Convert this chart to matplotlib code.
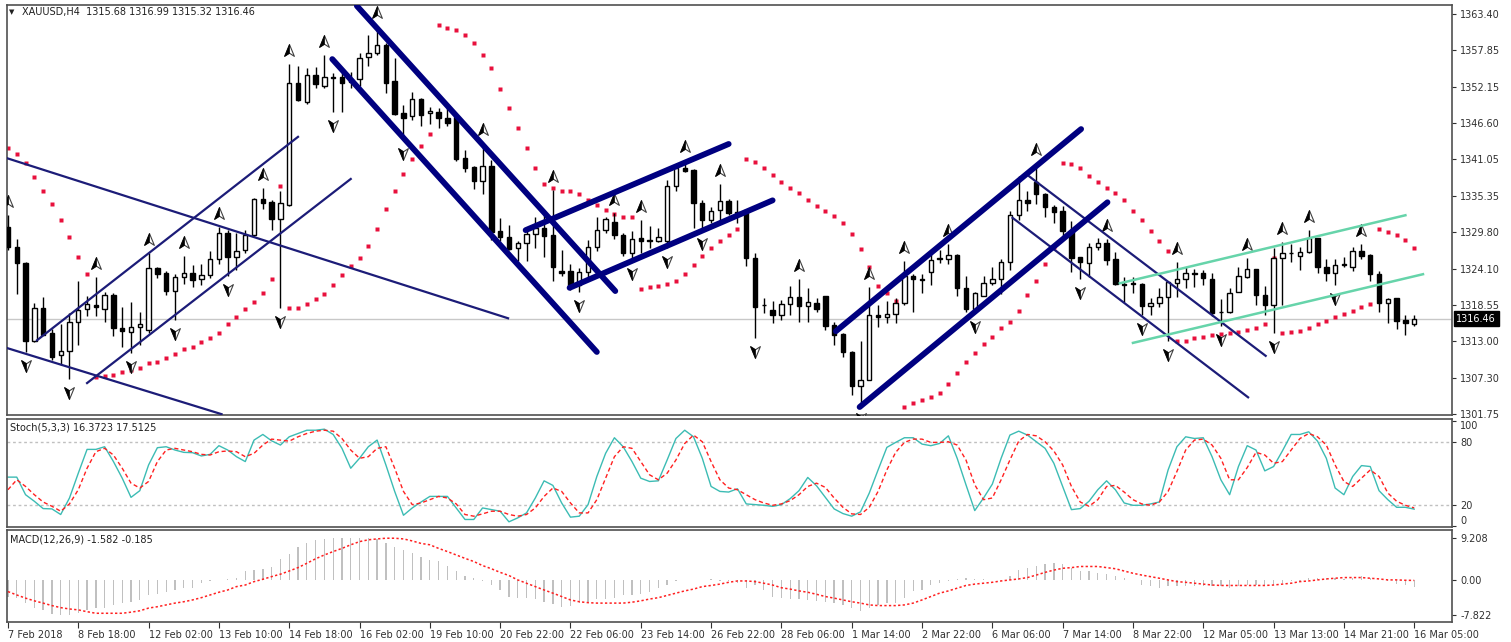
import numpy as np
import matplotlib.pyplot as plt
from matplotlib.path import Path
from matplotlib import transforms

# ---- data (XAUUSD H4) ----
OPEN = [1330.6, 1327.5, 1325.0, 1313.0, 1318.1, 1314.2, 1310.8, 1311.5, 1315.9, 1318.0,
        1318.5, 1318.0, 1320.1, 1315.0, 1314.4, 1315.1, 1314.7, 1324.2, 1323.5, 1320.7,
        1322.8, 1323.5, 1322.5, 1323.2, 1325.6, 1329.6, 1325.9, 1327.0, 1329.3, 1334.9,
        1334.4, 1331.8, 1334.0, 1352.8, 1349.9, 1354.0, 1352.3, 1353.7, 1353.7, 1353.4,
        1353.4, 1356.8, 1357.4, 1358.7, 1353.1, 1348.2, 1347.7, 1350.3, 1348.2, 1348.3,
        1347.4, 1347.5, 1341.2, 1339.9, 1337.7, 1340.0, 1329.9, 1329.0, 1327.3, 1328.1,
        1329.5, 1330.4, 1329.3, 1323.8, 1323.8, 1321.6, 1323.6, 1327.5, 1330.1, 1331.3,
        1329.3, 1326.6, 1328.9, 1328.6, 1328.4, 1328.4, 1336.9, 1339.7, 1339.4, 1334.3,
        1331.6, 1333.2, 1334.6, 1332.9, 1333.2, 1325.8, 1318.6, 1317.8, 1317.0, 1318.7,
        1319.8, 1318.4, 1318.8, 1319.9, 1315.5, 1314.0, 1311.3, 1306.0, 1307.0, 1317.0,
        1316.7, 1317.2, 1318.9, 1323.0, 1322.5, 1323.6, 1325.7, 1325.6, 1326.2, 1321.1,
        1317.9, 1319.9, 1321.9, 1322.5, 1325.2, 1332.4, 1334.7, 1337.5, 1335.7, 1333.6,
        1333.0, 1330.0, 1326.0, 1325.0, 1327.5, 1328.1, 1325.6, 1321.8, 1321.9, 1321.8,
        1318.4, 1318.9, 1319.8, 1322.0, 1322.5, 1323.5, 1323.5, 1322.5, 1317.5, 1317.5,
        1320.6, 1322.8, 1324.1, 1320.1, 1318.5, 1325.8, 1326.6, 1326.1, 1326.7, 1328.9,
        1324.4, 1323.5, 1324.7, 1324.4, 1326.9, 1326.3, 1323.3, 1318.9, 1319.6, 1316.2,
        1315.68]
HIGH = [1332.4, 1328.7, 1325.2, 1318.9, 1319.8, 1314.9, 1315.6, 1317.3, 1322.2, 1320.0,
        1322.8, 1320.6, 1320.4, 1318.2, 1319.0, 1317.5, 1326.5, 1324.4, 1323.8, 1323.3,
        1326.1, 1324.7, 1324.9, 1326.9, 1330.6, 1330.1, 1329.6, 1330.1, 1335.1, 1336.6,
        1334.7, 1336.1, 1355.7, 1355.4, 1355.1, 1355.3, 1357.1, 1354.3, 1354.4, 1354.5,
        1357.5, 1360.2, 1361.6, 1359.0, 1356.6, 1349.4, 1351.4, 1350.5, 1349.1, 1348.9,
        1349.0, 1348.2, 1342.4, 1340.0, 1343.5, 1340.9, 1331.9, 1330.9, 1328.5, 1330.1,
        1332.2, 1332.9, 1336.3, 1327.1, 1324.9, 1324.3, 1328.6, 1332.1, 1332.2, 1332.7,
        1329.6, 1329.9, 1331.7, 1330.7, 1330.4, 1337.9, 1340.3, 1341.0, 1339.5, 1334.7,
        1333.6, 1337.2, 1334.9, 1334.7, 1333.3, 1326.6, 1319.6, 1319.1, 1319.3, 1321.5,
        1322.5, 1321.1, 1319.6, 1320.0, 1316.0, 1314.2, 1311.5, 1313.0, 1321.3, 1318.5,
        1319.1, 1319.6, 1325.4, 1323.3, 1323.3, 1326.5, 1327.1, 1328.0, 1326.4, 1323.0,
        1320.6, 1323.1, 1324.4, 1325.6, 1333.1, 1338.4, 1336.2, 1340.4, 1335.8, 1334.0,
        1333.9, 1331.5, 1326.0, 1328.1, 1328.9, 1328.7, 1326.8, 1322.9, 1322.9, 1322.0,
        1319.6, 1321.1, 1322.1, 1325.2, 1324.4, 1324.1, 1324.0, 1323.5, 1319.5, 1321.1,
        1324.4, 1325.8, 1324.1, 1321.5, 1327.3, 1328.2, 1328.0, 1327.5, 1330.2, 1328.9,
        1325.7, 1325.7, 1326.0, 1327.5, 1328.0, 1326.4, 1323.8, 1319.6, 1319.7, 1317.0,
        1316.99]
LOW = [1327.0, 1320.2, 1311.3, 1312.9, 1313.9, 1310.0, 1309.3, 1307.1, 1312.4, 1316.9,
       1316.9, 1316.0, 1313.7, 1312.1, 1311.1, 1312.4, 1314.2, 1322.7, 1320.1, 1316.2,
       1321.8, 1321.3, 1321.6, 1322.7, 1324.9, 1323.0, 1324.0, 1326.5, 1329.0, 1333.3,
       1330.1, 1318.1, 1333.8, 1350.0, 1349.6, 1352.1, 1352.1, 1348.3, 1348.4, 1352.1,
       1352.3, 1355.4, 1357.1, 1351.3, 1347.8, 1344.0, 1347.1, 1346.2, 1346.5, 1345.8,
       1346.2, 1340.7, 1339.0, 1336.5, 1335.7, 1328.6, 1328.4, 1327.0, 1325.3, 1325.4,
       1327.4, 1326.0, 1322.3, 1323.0, 1320.9, 1320.6, 1322.4, 1326.9, 1329.7, 1328.7,
       1326.1, 1325.5, 1326.5, 1327.3, 1328.2, 1327.3, 1336.2, 1339.1, 1330.5, 1330.1,
       1331.2, 1331.4, 1332.4, 1331.2, 1324.5, 1313.4, 1317.3, 1315.7, 1316.2, 1317.0,
       1316.0, 1316.0, 1317.5, 1314.7, 1312.4, 1310.5, 1304.7, 1303.1, 1306.9, 1315.2,
       1315.7, 1315.7, 1318.5, 1317.5, 1320.4, 1321.6, 1325.0, 1324.9, 1319.9, 1317.5,
       1317.3, 1319.9, 1321.6, 1320.3, 1324.0, 1331.6, 1333.1, 1334.1, 1332.1, 1331.2,
       1329.0, 1323.6, 1322.5, 1322.9, 1327.1, 1324.7, 1321.6, 1319.0, 1320.4, 1317.0,
       1317.0, 1318.3, 1313.0, 1319.8, 1321.1, 1321.3, 1321.7, 1316.9, 1315.3, 1317.3,
       1320.5, 1322.7, 1318.5, 1317.0, 1314.3, 1318.5, 1325.2, 1324.0, 1326.5, 1323.5,
       1322.3, 1321.6, 1324.4, 1323.8, 1325.7, 1322.3, 1317.4, 1315.7, 1314.9, 1313.9,
       1315.32]
CLOSE = [1327.5, 1325.0, 1313.0, 1318.1, 1313.9, 1310.5, 1311.5, 1315.9, 1317.8, 1318.7,
         1318.2, 1320.1, 1315.0, 1314.5, 1315.2, 1315.6, 1324.2, 1323.4, 1320.7, 1322.9,
         1323.5, 1322.4, 1323.2, 1325.6, 1329.6, 1325.9, 1326.9, 1329.3, 1334.9, 1334.3,
         1331.8, 1334.3, 1352.8, 1350.2, 1354.0, 1352.6, 1353.7, 1353.6, 1352.8, 1353.0,
         1356.6, 1357.4, 1358.7, 1352.8, 1348.0, 1347.4, 1350.3, 1347.9, 1348.5, 1347.4,
         1346.6, 1341.1, 1339.7, 1337.7, 1340.0, 1329.8, 1329.0, 1327.2, 1328.1, 1329.5,
         1330.4, 1329.2, 1324.4, 1323.5, 1321.3, 1323.6, 1327.5, 1330.1, 1331.8, 1329.3,
         1326.6, 1328.7, 1328.5, 1328.4, 1329.0, 1336.9, 1339.7, 1339.2, 1334.3, 1331.6,
         1333.0, 1334.6, 1332.7, 1332.7, 1325.8, 1318.2, 1318.5, 1317.0, 1318.7, 1319.8,
         1318.4, 1319.0, 1317.9, 1315.3, 1313.9, 1311.3, 1306.0, 1307.0, 1317.0, 1316.7,
         1317.2, 1318.9, 1323.0, 1322.5, 1322.4, 1325.5, 1325.8, 1326.2, 1321.1, 1318.0,
         1320.4, 1321.9, 1322.5, 1325.2, 1332.4, 1334.7, 1334.3, 1335.7, 1333.6, 1332.9,
         1330.0, 1325.8, 1325.2, 1327.5, 1328.1, 1325.5, 1321.8, 1321.7, 1321.8, 1318.4,
         1318.9, 1319.8, 1322.1, 1322.5, 1323.5, 1323.4, 1322.7, 1317.3, 1317.4, 1320.4,
         1323.0, 1324.1, 1320.1, 1318.5, 1325.8, 1326.6, 1326.5, 1326.7, 1328.9, 1324.4,
         1323.5, 1324.7, 1324.8, 1326.9, 1326.1, 1323.3, 1318.9, 1319.5, 1316.1, 1315.7,
         1316.46]

SAR = [1342.8, 1341.8, 1340.4, 1338.3, 1336.1, 1334.1, 1331.7, 1329.0, 1325.9, 1323.3,
       1307.4, 1307.6, 1307.7, 1308.2, 1308.5, 1308.8, 1309.6, 1309.7, 1310.4, 1311.0,
       1311.7, 1312.1, 1312.8, 1313.4, 1314.2, 1315.6, 1316.7, 1317.9, 1319.0, 1320.4,
       1322.5, 1336.9, 1318.1, 1318.1, 1318.7, 1319.5, 1320.2, 1321.6, 1323.2, 1324.6,
       1325.8, 1327.6, 1330.3, 1333.4, 1336.1, 1338.8, 1341.1, 1343.1, 1344.9, 1361.7,
       1361.3, 1361.0, 1360.2, 1359.0, 1357.1, 1355.1, 1351.9, 1348.9, 1345.9, 1342.8,
       1339.7, 1337.2, 1336.6, 1336.1, 1336.1, 1335.7, 1334.7, 1334.0, 1333.2, 1332.6,
       1332.1, 1332.1, 1321.0, 1321.3, 1321.5, 1321.8, 1322.2, 1323.3, 1324.7, 1326.1,
       1327.3, 1328.4, 1329.3, 1330.3, 1341.1, 1340.6, 1339.7, 1338.6, 1337.5, 1336.6,
       1335.8, 1334.7, 1333.8, 1333.0, 1332.3, 1331.2, 1329.5, 1327.2, 1324.4, 1321.5,
       1320.4, 1319.2, 1302.8, 1303.4, 1303.9, 1304.3, 1305.0, 1306.3, 1308.0, 1309.7,
       1311.1, 1312.5, 1313.6, 1315.0, 1315.9, 1317.6, 1320.1, 1322.2, 1324.9, 1327.5,
       1340.4, 1340.3, 1339.7, 1338.4, 1337.5, 1336.6, 1335.8, 1334.7, 1333.0, 1331.7,
       1330.0, 1328.4, 1326.9, 1313.0, 1313.0, 1313.4, 1313.6, 1313.9, 1314.1, 1314.2,
       1314.4, 1314.7, 1315.0, 1315.6, 1325.8, 1314.2, 1314.4, 1314.5, 1315.0, 1315.6,
       1316.1, 1316.7, 1317.2, 1317.6, 1318.2, 1318.7, 1330.3, 1329.8, 1329.3, 1328.6,
       1327.3]

FRACTAL_UP = [0, 10, 16, 20, 24, 29, 32, 36, 42, 54, 62, 69, 72, 77, 81, 90, 98, 102,
              107, 117, 125, 133, 141, 145, 148, 154]
FRACTAL_DOWN = [2, 7, 14, 19, 25, 31, 37, 45, 65, 71, 75, 79, 85, 97, 110, 122, 129,
                132, 138, 144, 151]

# trendline objects: (bar, price) -> (bar, price)
THIN_LINES = [((-0.1, 1341.2), (56.9, 1316.5)), ((-0.1, 1311.9), (24.3, 1301.7)),
              ((3.3, 1313.1), (33.0, 1344.5)), ((9.0, 1306.5), (39.0, 1338.0)),
              ((116.2, 1338.4), (143.1, 1310.7)), ((114.3, 1332.0), (141.1, 1304.3))]
THICK_LINES = [((39.7, 1364.7), (69.1, 1320.7)), ((36.9, 1356.5), (67.0, 1311.3)),
               ((58.9, 1330.1), (82.0, 1343.4)), ((63.9, 1321.2), (87.0, 1334.7)),
               ((94.2, 1314.5), (122.1, 1345.7)), ((96.9, 1302.8), (125.1, 1334.4))]
AQUA_LINES = [((126.5, 1321.9), (159.0, 1332.4)), ((128.0, 1312.7), (161.0, 1323.3))]

STOCH_K = [46.6, 46.6, 30, 23.8, 16.9, 16.6, 11.3, 26.9, 50.3, 72.8, 72.8, 75.3, 61.3, 45.6,
           27.5, 33.8, 58.1, 74.4, 75.3, 72.2, 70, 69.7, 66.6, 68.1, 76.3, 72.2, 65.9, 61.3,
           81.6, 86.9, 80.9, 76.9, 84.7, 87.8, 90.9, 90.9, 91.9, 86.9, 73.8, 55, 64.4, 75.3,
           81.6, 58.1, 33.1, 10.6, 17.5, 23.1, 28.4, 28.4, 28.4, 17.5, 6.6, 6.6, 17.5, 15.9,
           14.4, 4.4, 8.1, 12.8, 26.9, 43.1, 38.8, 22.2, 8.8, 9.7, 20.6, 47.2, 69.1, 83.8,
           75.3, 61.3, 45.6, 42.5, 43.1, 62.8, 83.1, 90.9, 84.7, 64.4, 37.8, 33.1, 32.5, 35.6,
           21.3, 20.6, 20, 19, 20.6, 26.3, 33.8, 46.3, 38.4, 27.5, 16.6, 12.2, 9.7, 13.8,
           31.6, 53.4, 74.7, 79.4, 83.8, 83.8, 77.8, 76.3, 78.4, 85.6, 64.4, 39.4, 15, 26.9,
           40, 64.4, 86.3, 90, 86.3, 80, 73.8, 59.7, 37.8, 15.9, 16.9, 23.8, 34.7, 43.1,
           34.7, 22.2, 20, 20, 21.3, 23.1, 53.4, 75.3, 84.7, 83.1, 83.8, 65.9, 44.1, 30,
           56.6, 76.3, 72.2, 52.5, 56.6, 71.3, 86.9, 86.9, 89.4, 80.6, 64.4, 36.3, 30, 47.2,
           57.5, 56.6, 33.8, 25.3, 18.1, 18.1, 16.37]
STOCH_D = [34.7, 44.1, 37.8, 30, 23.1, 19.1, 14.4, 21.3, 34.7, 55, 70.6, 73.8, 67.5, 55,
           40.9, 36.3, 42.5, 61.3, 72.2, 73.8, 72.2, 70.6, 68.1, 67.5, 70.6, 71.3, 70.6, 65.9,
           69.1, 76.9, 82.5, 81.6, 80.6, 84.7, 87.8, 90, 90.9, 90, 83.1, 72.2, 64.4, 65.9,
           73.8, 75.3, 55, 33.1, 20.6, 22.2, 25.3, 28.4, 26.9, 21.3, 11.3, 9.7, 11.9, 14.4,
           14.4, 11.3, 9.7, 11.3, 17.5, 28.4, 36.3, 33.1, 22.2, 12.8, 12.8, 25.3, 45.6, 65.9,
           75.3, 73.8, 61.3, 48.8, 44.1, 50.3, 62.8, 78.4, 86.3, 80, 61.3, 44.1, 36.3, 34.7,
           30, 25.3, 22.2, 20, 21.3, 24.4, 30, 37.8, 40.9, 36.9, 26.9, 18.1, 11.9, 11.3,
           18.1, 33.1, 53.4, 70, 79.4, 82.5, 82.5, 79.4, 79.4, 80, 76.9, 62.8, 39.4, 25.3,
           26.9, 44.1, 62.8, 80.6, 86.9, 85.6, 80, 71.3, 58.1, 37.8, 23.1, 19.1, 25.3, 37.8,
           38.8, 32.5, 25.3, 21.3, 20, 23.1, 33.1, 51.9, 72.2, 81.6, 82.5, 76.9, 64.4, 44.1,
           44.1, 55.6, 70, 67.5, 59.7, 61.3, 72.2, 83.1, 87.8, 84.7, 76.9, 58.1, 42.5, 37.8,
           45.6, 53.4, 47.2, 31.6, 23.8, 20, 17.51]

MACD = [-3.8, -4.0, -5.2, -6.3, -6.7, -7.7, -7.8, -7.8, -7.4, -6.7, -6.3, -6.2, -5.6, -5.2,
        -4.9, -4.5, -3.4, -3.2, -2.7, -2.3, -1.9, -1.8, -0.8, -0.3, -0.1, 0.15, 0.4, 1.8,
        2.1, 2.4, 2.7, 4.6, 5.6, 7.3, 8.0, 8.8, 9.0, 9.2, 9.2, 9.2, 9.2, 9.1, 9.0, 8.0,
        7.1, 6.6, 5.8, 4.9, 4.4, 4.1, 2.9, 1.8, 0.7, 0.3, -0.3, -1.2, -2.3, -3.8, -4.0,
        -4.1, -4.3, -4.9, -5.5, -6.0, -5.8, -5.2, -4.9, -4.3, -4.3, -4.1, -3.4, -3.4, -3.2,
        -2.7, -1.9, -1.2, -0.4, -0.1, -0.1, -0.1, 0.15, -0.4, -0.4, -0.8, -1.9, -1.2, -2.3,
        -3.8, -4.1, -4.3, -4.3, -4.5, -4.7, -4.9, -5.2, -5.6, -6.3, -6.9, -6.3, -5.6, -5.2,
        -5.2, -4.1, -2.5, -2.3, -1.2, -0.8, -0.3, 0.15, 0.3, 0.1, 0.15, -0.1, -0.1, 0.7,
        2.1, 2.5, 3.1, 3.4, 3.6, 3.4, 2.5, 1.9, 1.8, 1.4, 1.2, 0.7, 0.3, -0.1, -1.2, -1.5,
        -1.8, -1.5, -1.5, -1.5, -1.5, -1.5, -1.5, -1.5, -1.8, -1.5, -1.3, -1.3, -1.2, -1.2,
        -0.8, -0.4, -0.4, 0.4, 0.3, 0.3, 0.3, 0.15, 0.4, 0.7, 0.3, -0.1, -0.4, -1.0, -1.3,
        -1.582]
MACD_SIGNAL = [-2.65, -3.4, -4.1, -4.7, -5.2, -5.75, -6.2, -6.5, -6.7, -7.1, -7.45, -7.45,
               -7.45, -7.45, -7.2, -6.9, -6.3, -6.0, -5.6, -5.2, -4.9, -4.5, -4.0, -3.4,
               -2.8, -2.3, -1.55, -1.2, -0.45, 0.07, 0.66, 1.2, 1.9, 2.65, 3.6, 4.6, 5.45,
               6.2, 6.9, 7.7, 8.4, 8.8, 9.0, 9.15, 9.15, 9.0, 8.55, 8.0, 7.7, 6.9, 6.2, 5.45,
               4.7, 4.0, 3.1, 2.4, 1.6, 0.9, -0.07, -0.8, -1.55, -2.3, -3.0, -3.75, -4.5,
               -4.9, -5.1, -5.2, -5.2, -5.2, -5.2, -5.0, -4.7, -4.3, -4.0, -3.5, -3.0, -2.5,
               -2.1, -1.55, -1.3, -1.0, -0.6, -0.3, -0.3, -0.45, -0.8, -1.2, -1.8, -2.1,
               -2.5, -2.8, -3.25, -3.75, -4.1, -4.5, -4.9, -5.2, -5.6, -5.75, -5.75, -5.75,
               -5.6, -5.2, -4.5, -3.75, -3.0, -2.5, -1.9, -1.3, -1.0, -0.8, -0.6, -0.3,
               -0.07, 0.15, 0.45, 1.0, 1.6, 2.1, 2.5, 2.65, 2.9, 2.9, 2.9, 2.65, 2.4, 1.9,
               1.4, 1.0, 0.66, 0.3, -0.07, -0.45, -0.6, -0.8, -1.0, -1.2, -1.3, -1.3, -1.3,
               -1.3, -1.3, -1.3, -1.2, -1.0, -0.8, -0.45, -0.3, -0.07, 0.15, 0.3, 0.45, 0.45,
               0.45, 0.3, 0.15, -0.07, -0.07, -0.15, -0.185]

PRICE_TICKS = [1363.40, 1357.85, 1352.15, 1346.60, 1341.05, 1335.35, 1329.80, 1324.10,
               1318.55, 1313.00, 1307.30, 1301.75]
STOCH_TICKS = [100, 80, 20, 0]
MACD_TICKS = [9.208, 0.0, -7.822]
MACD_TICK_LABELS = ['9.208', '0.00', '-7.822']
TIME_LABELS = ['7 Feb 2018', '8 Feb 18:00', '12 Feb 02:00', '13 Feb 10:00', '14 Feb 18:00',
               '16 Feb 02:00', '19 Feb 10:00', '20 Feb 22:00', '22 Feb 06:00', '23 Feb 14:00',
               '26 Feb 22:00', '28 Feb 06:00', '1 Mar 14:00', '2 Mar 22:00', '6 Mar 06:00',
               '7 Mar 14:00', '8 Mar 22:00', '12 Mar 05:00', '13 Mar 13:00', '14 Mar 21:00',
               '16 Mar 05:00']
LAST_PRICE = 1316.46

# ---- figure ----
W, H = 1511, 642
plt.rcParams['font.family'] = ['DejaVu Sans']
fig = plt.figure(figsize=(W / 100, H / 100), dpi=100)
fig.patch.set_facecolor('white')


def panel(x0, y0, x1, y1):
    a = fig.add_axes([x0 / W, 1 - y1 / H, (x1 - x0) / W, (y1 - y0) / H])
    for s in a.spines.values():
        s.set_color('#505050')
        s.set_linewidth(1.2)
    a.yaxis.tick_right()
    a.tick_params(axis='y', direction='out', length=3, pad=3, labelsize=7,
                  colors='#303030')
    a.set_xlim(-0.11, 164.3)
    return a


ax = panel(7, 5, 1452, 415)
ax_st = panel(7, 419, 1452, 527)
ax_md = panel(7, 530, 1452, 622)

idx = np.arange(len(OPEN))
o, h, l, c = map(np.array, (OPEN, HIGH, LOW, CLOSE))
bull = c >= o

# price line, SAR and candles
ax.axhline(LAST_PRICE, color='#c8c8c8', lw=1, zorder=1)
ax.plot(idx, SAR, 's', ms=2.6, color='#e8103c', mec='none', zorder=2)
ax.vlines(idx, l, h, color='black', lw=1, zorder=3)
lo = np.minimum(o, c)
ht = np.abs(c - o)
ax.bar(idx[bull], ht[bull], bottom=lo[bull], width=0.5, facecolor='white',
       edgecolor='black', lw=1, zorder=4)
ax.bar(idx[~bull], ht[~bull], bottom=lo[~bull], width=0.5, facecolor='black',
       edgecolor='black', lw=1, zorder=4)

# fractal arrows
up_full = Path([(0, 1), (-0.7, -0.7), (0, -0.25), (0.7, -0.7), (0, 1)],
               [Path.MOVETO, Path.LINETO, Path.LINETO, Path.LINETO, Path.CLOSEPOLY])
up_half = Path([(0, 1), (-0.7, -0.7), (0, -0.25), (0, 1)],
               [Path.MOVETO, Path.LINETO, Path.LINETO, Path.CLOSEPOLY])
dn_full = Path(up_full.vertices * [1, -1], up_full.codes)
dn_half = Path(up_half.vertices * [1, -1], up_half.codes)
tr_up = transforms.offset_copy(ax.transData, fig=fig, y=13, units='dots')
tr_dn = transforms.offset_copy(ax.transData, fig=fig, y=-13, units='dots')
fu = np.array(FRACTAL_UP)
fd = np.array(FRACTAL_DOWN)
for pth, half, xs, ys, tr in ((up_full, up_half, fu, h[fu], tr_up),
                              (dn_full, dn_half, fd, l[fd], tr_dn)):
    ax.plot(xs, ys, ls='none', marker=pth, ms=10, mfc='white', mec='#404040',
            mew=0.8, transform=tr, zorder=5)
    ax.plot(xs, ys, ls='none', marker=half, ms=10, mfc='black', mec='black',
            mew=0.5, transform=tr, zorder=6)

# trendline objects
for (x0, p0), (x1, p1) in THIN_LINES:
    ax.plot([x0, x1], [p0, p1], color='#1c1c78', lw=1.6, zorder=7)
for (x0, p0), (x1, p1) in THICK_LINES:
    ax.plot([x0, x1], [p0, p1], color='#000080', lw=4.2, solid_capstyle='round', zorder=7)
for (x0, p0), (x1, p1) in AQUA_LINES:
    ax.plot([x0, x1], [p0, p1], color='#66d4aa', lw=1.8, zorder=7)

ax.set_ylim(1301.57, 1364.85)
ax.set_yticks(PRICE_TICKS)
ax.set_yticklabels(['%.2f' % p for p in PRICE_TICKS])
ax.set_xticks([])
blend = transforms.blended_transform_factory(ax.transAxes, ax.transData)
ax.text(1.003, LAST_PRICE, '1316.46', transform=blend, ha='left', va='center',
        fontsize=7, color='white', zorder=10, clip_on=False,
        bbox=dict(boxstyle='square,pad=0.25', fc='black', ec='black'))

# stochastic
ax_st.axhline(80, color='#c0c0c0', lw=1, ls=(0, (2, 2)))
ax_st.axhline(20, color='#c0c0c0', lw=1, ls=(0, (2, 2)))
ax_st.plot(idx, STOCH_K, color='#3cbcb4', lw=1)
ax_st.plot(idx, STOCH_D, color='#ff2020', lw=1, ls=(0, (3, 2)))
ax_st.set_ylim(-0.5, 101.5)
ax_st.set_yticks(STOCH_TICKS)
ax_st.set_yticklabels([str(v) for v in STOCH_TICKS])
st_labels = ax_st.get_yticklabels()
st_labels[0].set_va('top')      # 100 sits just under the panel top
st_labels[-1].set_va('bottom')  # 0 sits just above the panel bottom
ax_st.set_xticks([])

# macd
ax_md.bar(idx, MACD, width=0.15, color='#c0c0c0', zorder=2)
ax_md.plot(idx, MACD_SIGNAL, color='#ff2020', lw=1.1, ls=(0, (1.5, 1.5)), zorder=3)
ax_md.set_ylim(-9.38, 10.97)
ax_md.set_yticks(MACD_TICKS)
ax_md.set_yticklabels(MACD_TICK_LABELS)
ax_md.set_xticks(idx[::8])
ax_md.set_xticklabels(TIME_LABELS)
ax_md.tick_params(axis='x', direction='out', length=4, pad=2, labelsize=7,
                  colors='#303030')
for t in ax_md.get_xticklabels():
    t.set_ha('left')

# panel headers
fig.text(9 / W, 1 - 12 / H, '\u25bc', fontsize=5, va='center', color='#202020')
fig.text(22 / W, 1 - 12 / H, 'XAUUSD,H4  1315.68 1316.99 1315.32 1316.46', fontsize=7,
         va='center', color='#202020')
fig.text(10 / W, 1 - 428 / H, 'Stoch(5,3,3) 16.3723 17.5125', fontsize=7, va='center',
         color='#202020')
fig.text(10 / W, 1 - 540 / H, 'MACD(12,26,9) -1.582 -0.185', fontsize=7, va='center',
         color='#202020')

fig.savefig('out.png', dpi=100, facecolor='white')
